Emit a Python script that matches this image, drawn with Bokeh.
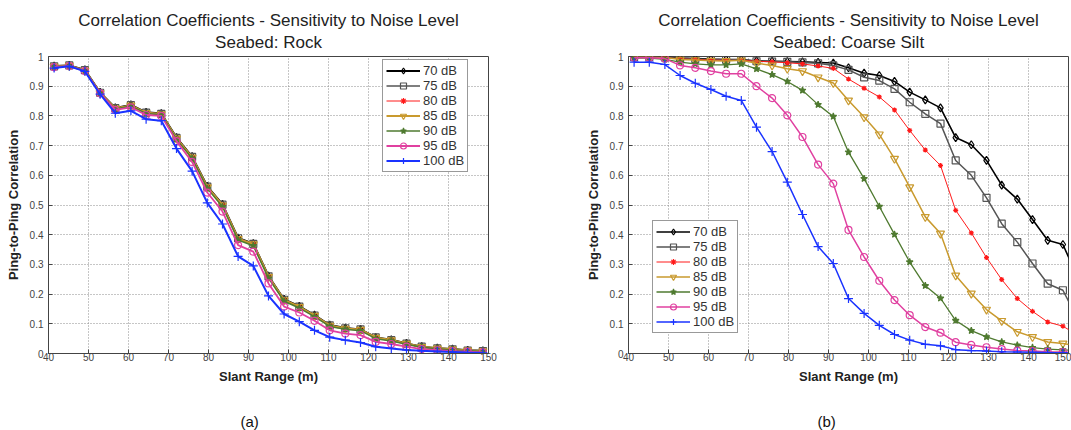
from bokeh.plotting import figure
from bokeh.models import Title, Legend, LegendItem, FixedTicker, Range1d
from bokeh.layouts import row
from bokeh.embed import file_html
from bokeh.resources import INLINE

# ---------------- data ----------------
slant_range_a = [41.4, 45.2, 49.1, 52.9, 56.7, 60.6, 64.4, 68.2, 72.0, 75.9,
                 79.7, 83.5, 87.4, 91.2, 95.0, 98.9, 102.7, 106.5, 110.3, 114.2,
                 118.0, 121.8, 125.7, 129.5, 133.3, 137.2, 141.0, 144.8, 148.6]
slant_range_b = [41.4, 45.2, 49.1, 52.9, 56.7, 60.6, 64.4, 68.2, 72.0, 75.9,
                 79.7, 83.5, 87.4, 91.2, 95.0, 98.9, 102.7, 106.5, 110.3, 114.2,
                 118.0, 121.8, 125.7, 129.5, 133.3, 137.2, 141.0, 144.8, 148.6, 152.5]

noise_levels = ["70 dB", "75 dB", "80 dB", "85 dB", "90 dB", "95 dB", "100 dB"]

rock_70 = [0.968, 0.970, 0.955, 0.879, 0.827, 0.837, 0.812, 0.808, 0.727, 0.663, 0.563, 0.502, 0.389, 0.370, 0.261,
           0.182, 0.159, 0.129, 0.096, 0.086, 0.081, 0.054, 0.046, 0.034, 0.023, 0.018, 0.015, 0.011, 0.009]
rock_75 = [0.967, 0.970, 0.954, 0.878, 0.826, 0.836, 0.811, 0.807, 0.726, 0.662, 0.562, 0.501, 0.388, 0.369, 0.260,
           0.181, 0.158, 0.128, 0.095, 0.085, 0.081, 0.054, 0.045, 0.033, 0.023, 0.017, 0.014, 0.010, 0.008]
rock_80 = [0.967, 0.969, 0.954, 0.878, 0.826, 0.835, 0.810, 0.806, 0.725, 0.661, 0.561, 0.500, 0.387, 0.368, 0.259,
           0.180, 0.157, 0.127, 0.094, 0.084, 0.080, 0.053, 0.045, 0.033, 0.022, 0.017, 0.013, 0.010, 0.008]
rock_85 = [0.967, 0.969, 0.953, 0.877, 0.825, 0.835, 0.810, 0.806, 0.724, 0.660, 0.560, 0.499, 0.386, 0.368, 0.258,
           0.180, 0.157, 0.127, 0.094, 0.084, 0.080, 0.053, 0.045, 0.033, 0.022, 0.017, 0.014, 0.010, 0.008]
rock_90 = [0.966, 0.968, 0.952, 0.876, 0.823, 0.833, 0.808, 0.804, 0.721, 0.657, 0.556, 0.494, 0.382, 0.363, 0.254,
           0.176, 0.153, 0.124, 0.091, 0.082, 0.077, 0.050, 0.042, 0.031, 0.021, 0.016, 0.012, 0.009, 0.007]
rock_95 = [0.964, 0.968, 0.951, 0.876, 0.820, 0.829, 0.803, 0.800, 0.715, 0.645, 0.542, 0.478, 0.365, 0.343, 0.236,
           0.158, 0.138, 0.110, 0.078, 0.067, 0.062, 0.039, 0.032, 0.023, 0.015, 0.011, 0.008, 0.006, 0.004]
rock_100 = [0.961, 0.967, 0.950, 0.873, 0.809, 0.817, 0.789, 0.784, 0.690, 0.614, 0.507, 0.436, 0.327, 0.295, 0.194,
            0.133, 0.107, 0.078, 0.055, 0.045, 0.037, 0.023, 0.017, 0.012, 0.009, 0.007, 0.005, 0.003, 0.002]

silt_70 = [0.999, 0.999, 0.998, 0.995, 0.993, 0.991, 0.990, 0.990, 0.985, 0.984, 0.983, 0.982, 0.980, 0.978, 0.962,
           0.944, 0.936, 0.916, 0.880, 0.854, 0.827, 0.727, 0.703, 0.650, 0.567, 0.520, 0.451, 0.381, 0.367, 0.250]
silt_75 = [0.998, 0.998, 0.997, 0.994, 0.992, 0.990, 0.989, 0.989, 0.984, 0.983, 0.982, 0.980, 0.977, 0.970, 0.955,
           0.930, 0.919, 0.891, 0.846, 0.807, 0.774, 0.650, 0.600, 0.524, 0.437, 0.375, 0.303, 0.235, 0.213, 0.110]
silt_80 = [0.997, 0.997, 0.996, 0.992, 0.990, 0.988, 0.987, 0.987, 0.984, 0.982, 0.979, 0.975, 0.968, 0.960, 0.924,
           0.893, 0.864, 0.820, 0.751, 0.685, 0.633, 0.482, 0.406, 0.323, 0.249, 0.185, 0.142, 0.106, 0.092, 0.060]
silt_85 = [0.998, 0.998, 0.997, 0.990, 0.988, 0.986, 0.985, 0.987, 0.977, 0.970, 0.959, 0.951, 0.930, 0.911, 0.852,
           0.796, 0.738, 0.656, 0.560, 0.460, 0.404, 0.263, 0.202, 0.148, 0.110, 0.073, 0.056, 0.039, 0.034, 0.025]
silt_90 = [0.995, 0.995, 0.990, 0.981, 0.975, 0.972, 0.972, 0.975, 0.958, 0.939, 0.916, 0.886, 0.838, 0.798, 0.678,
           0.589, 0.495, 0.401, 0.308, 0.228, 0.186, 0.111, 0.077, 0.056, 0.039, 0.028, 0.020, 0.015, 0.012, 0.010]
silt_95 = [0.996, 0.996, 0.993, 0.970, 0.962, 0.951, 0.942, 0.942, 0.900, 0.860, 0.802, 0.729, 0.636, 0.572, 0.416,
           0.325, 0.245, 0.180, 0.129, 0.089, 0.070, 0.038, 0.029, 0.021, 0.015, 0.010, 0.008, 0.006, 0.005, 0.004]
silt_100 = [0.981, 0.981, 0.973, 0.936, 0.910, 0.889, 0.866, 0.852, 0.762, 0.680, 0.577, 0.468, 0.360, 0.303, 0.185,
            0.135, 0.095, 0.064, 0.045, 0.031, 0.026, 0.013, 0.010, 0.008, 0.006, 0.005, 0.004, 0.003, 0.002, 0.001]

x_ticks = [40, 50, 60, 70, 80, 90, 100, 110, 120, 130, 140, 150]
y_ticks = [0, 0.1, 0.2, 0.3, 0.4, 0.5, 0.6, 0.7, 0.8, 0.9, 1]

# ---------------- style ----------------
FONT = "Liberation Sans"
STYLE = {
    "70 dB": dict(color="#000000", marker="diamond", size=8, fill=None, lw=(2.0, 1.6)),
    "75 dB": dict(color="#555555", marker="square", size=7, fill=None, lw=(1.5, 1.5)),
    "80 dB": dict(color="#ff1a1a", marker="asterisk", size=5, fill=None, lw=(1.0, 1.0)),
    "85 dB": dict(color="#c99a2e", marker="inverted_triangle", size=8, fill=None, lw=(2.2, 1.5)),
    "90 dB": dict(color="#4f7a30", marker="star", size=7, fill="#4f7a30", lw=(1.5, 1.3)),
    "95 dB": dict(color="#e040a0", marker="circle", size=7, fill=None, lw=(1.8, 1.5)),
    "100 dB": dict(color="#1a33ff", marker="cross", size=9, fill=None, lw=(2.0, 1.5)),
}


def make_plot(subtitle, xs, series, idx, border_left, border_right, legend_loc, caption, cap_offset):
    p = figure(frame_width=440, frame_height=297, x_range=Range1d(40, 150), y_range=Range1d(0, 1),
               output_backend="svg", toolbar_location=None, title=None,
               min_border_left=border_left, min_border_right=border_right,
               min_border_top=56, min_border_bottom=77)
    p.background_fill_color = "white"
    p.border_fill_color = "white"
    p.outline_line_color = "#444444"
    p.outline_line_width = 1

    # small spacer between the frame and the title lines
    p.add_layout(Title(text=" ", text_font=FONT, text_font_size="1px", standoff=1), "above")
    p.add_layout(Title(text=subtitle, align="center", text_font=FONT,
                       text_font_size="17px", text_font_style="normal", text_color="#222222",
                       standoff=2), "above")
    p.add_layout(Title(text="Correlation Coefficients - Sensitivity to Noise Level", align="center",
                       text_font=FONT, text_font_size="17px",
                       text_font_style="normal", text_color="#222222", standoff=0), "above")

    p.xaxis.ticker = FixedTicker(ticks=x_ticks)
    p.yaxis.ticker = FixedTicker(ticks=y_ticks)
    p.yaxis.major_label_overrides = {0: "0", 1: "1"}
    p.xaxis.axis_label = "Slant Range (m)"
    p.yaxis.axis_label = "Ping-to-Ping Correlation"
    for ax in p.axis:
        ax.axis_label_text_font = FONT
        ax.axis_label_text_font_size = "13px"
        ax.axis_label_text_font_style = "bold"
        ax.axis_label_text_color = "#222222"
        ax.major_label_text_font = FONT
        ax.major_label_text_font_size = "10px"
        ax.major_label_text_color = "#444444"
        ax.major_tick_in = 4
        ax.major_tick_out = 0
        ax.major_tick_line_color = "#444444"
        ax.minor_tick_line_color = None
        ax.axis_line_color = "#444444"
    p.xaxis.major_label_standoff = -1
    p.xaxis.axis_label_standoff = 5
    p.yaxis.major_label_standoff = 5
    p.yaxis.axis_label_standoff = 6

    p.grid.grid_line_color = "#8c8c8c"
    p.grid.grid_line_dash = "1 2"
    p.grid.grid_line_width = 1

    items = []
    for name, ys in zip(noise_levels, series):
        st = STYLE[name]
        lr = p.line(xs, ys, line_color=st["color"], line_width=st["lw"][idx])
        sr = p.scatter(xs, ys, marker=st["marker"], size=st["size"], line_color=st["color"],
                       fill_color=st["fill"], line_width=1.2)
        items.append(LegendItem(label=name, renderers=[lr, sr]))

    legend = Legend(items=items, location=legend_loc, label_text_font=FONT, label_text_font_size="13px",
                    label_text_color="#333333", glyph_width=34, glyph_height=15, label_height=15,
                    spacing=0, padding=3, margin=0, label_standoff=3,
                    border_line_color="#333333", border_line_width=1, background_fill_color="white",
                    background_fill_alpha=1)
    p.add_layout(legend, "center")

    p.add_layout(Title(text=caption, align="left", offset=cap_offset, text_font=FONT, text_font_size="15px",
                       text_font_style="normal", text_color="#111111", standoff=48), "below")
    return p


p1 = make_plot("Seabed: Rock", slant_range_a,
               [rock_70, rock_75, rock_80, rock_85, rock_90, rock_95, rock_100], 0,
               48, 52, (334, 181), "(a)", 192)
p2 = make_plot("Seabed: Coarse Silt", slant_range_b,
               [silt_70, silt_75, silt_80, silt_85, silt_90, silt_95, silt_100], 1,
               88, 3, (24, 20), "(b)", 189)

layout = row(p1, p2)
open("out.html", "w").write(file_html(layout, INLINE))
